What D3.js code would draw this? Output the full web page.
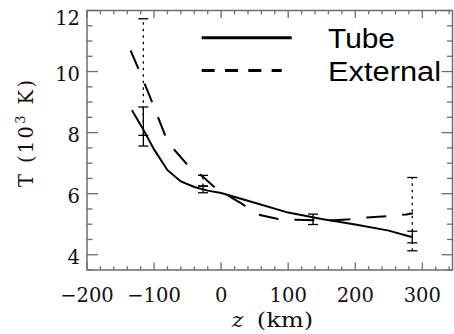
<!DOCTYPE html>
<html>
<head>
<meta charset="utf-8">
<script src="https://cdn.jsdelivr.net/npm/d3@7"></script>
<style>
  html, body { margin: 0; padding: 0; background: #fff; }
  svg { display: block; }
</style>
</head>
<body>
<svg id="chart" width="454" height="334"></svg>
<script>
// ---- data ----
const tubeZ = [-133, -118, -100, -80, -60, -40, -20, 0, 50, 100, 150, 200, 250, 284];
const tubeT = [8.73, 8.18, 7.45, 6.77, 6.40, 6.22, 6.10, 6.02, 5.70, 5.38, 5.17, 4.99, 4.79, 4.58];

const extZ = [-135, -120, -104, -84, -70, -52, -27, -12, 13, 30, 58, 85, 110, 140, 170, 192, 217, 249, 276, 286];
const extT = [10.69, 9.92, 9.06, 7.94, 7.44, 6.99, 6.55, 6.25, 5.90, 5.68, 5.30, 5.17, 5.15, 5.13, 5.13, 5.16, 5.22, 5.26, 5.32, 5.36];

const tubeErrZ = [-116, -27, 137, 285];
const tubeErrLo = [7.56, 6.03, 4.99, 4.39];
const tubeErrHi = [8.84, 6.25, 5.33, 4.77];

const extErrZ = [-116, -27, 285];
const extErrLo = [7.91, 6.25, 4.13];
const extErrHi = [11.73, 6.60, 6.53];

const xTicks = [-200, -100, 0, 100, 200, 300];
const xTickLabels = ["\u2212200", "\u2212100", "0", "100", "200", "300"];
const yTicks = [4, 6, 8, 10, 12];
const yTickLabels = ["4", "6", "8", "10", "12"];
const seriesNames = ["Tube", "External"];

// ---- layout ----
const svg = d3.select("#chart");
const L = 87, R = 452.5, T = 10.5, B = 270;
const x = d3.scaleLinear().domain([-200, 345]).range([L, R]);
const y = d3.scaleLinear().domain([3.5, 12]).range([B, T]);
const axisColor = "#6e6e6e";
const serif = "'DejaVu Serif', serif";

// frame
svg.append("rect").attr("x", L).attr("y", T).attr("width", R - L).attr("height", B - T)
  .attr("fill", "none").attr("stroke", axisColor).attr("stroke-width", 1.5);

// ticks (inward, all four sides)
const xMinor = d3.range(-200, 346, 20);
const yMinor = d3.range(3.5, 12.01, 0.5);
const tickG = svg.append("g").attr("stroke", axisColor).attr("stroke-width", 1.3);
xMinor.forEach(v => {
  const major = v % 100 === 0;
  const len = major ? 7.5 : 3.8;
  tickG.append("line").attr("x1", x(v)).attr("x2", x(v)).attr("y1", B).attr("y2", B - len);
  tickG.append("line").attr("x1", x(v)).attr("x2", x(v)).attr("y1", T).attr("y2", T + len);
});
yMinor.forEach(v => {
  const major = Math.abs(v - Math.round(v)) < 1e-6 && Math.round(v) % 2 === 0;
  const len = major ? 11 : 5.5;
  tickG.append("line").attr("x1", L).attr("x2", L + len).attr("y1", y(v)).attr("y2", y(v));
  tickG.append("line").attr("x1", R).attr("x2", R - len).attr("y1", y(v)).attr("y2", y(v));
});

// tick labels
svg.append("g").selectAll("text").data(xTicks).join("text")
  .attr("x", d => x(d)).attr("y", 301.7)
  .attr("text-anchor", "middle").attr("font-family", serif).attr("font-size", 19.5)
  .attr("fill", "#111")
  .text((d, i) => xTickLabels[i]);

svg.append("g").selectAll("text").data(yTicks).join("text")
  .attr("x", 80).attr("y", d => Math.max(y(d) + 9, 25))
  .attr("text-anchor", "end").attr("font-family", serif).attr("font-size", 19.5)
  .attr("fill", "#111")
  .text((d, i) => yTickLabels[i]);

// axis titles
svg.append("text").attr("x", 231.7).attr("y", 326.5)
  .attr("font-family", serif).attr("font-style", "italic").attr("font-size", 19.5)
  .attr("fill", "#111").attr("textLength", 11.6).attr("lengthAdjust", "spacingAndGlyphs").text("z");
svg.append("text").attr("x", 256.7).attr("y", 326.5)
  .attr("font-family", serif).attr("font-size", 19.5)
  .attr("fill", "#111").attr("textLength", 56.6).attr("lengthAdjust", "spacingAndGlyphs").text("(km)");

const yl = svg.append("text")
  .attr("transform", "translate(33,133.5) rotate(-90)")
  .attr("text-anchor", "middle").attr("font-family", serif).attr("font-size", 19.5)
  .attr("fill", "#111").attr("textLength", 107).attr("lengthAdjust", "spacing");
yl.append("tspan").text("T (10");
yl.append("tspan").attr("font-size", 13).attr("dy", -8).text("3");
yl.append("tspan").attr("dy", 8).text(" K)");

// curves
const line = d3.line().x(d => x(d[0])).y(d => y(d[1]));
svg.append("path").datum(d3.zip(tubeZ, tubeT)).attr("d", line)
  .attr("fill", "none").attr("stroke", "#000").attr("stroke-width", 2);
svg.append("path").datum(d3.zip(extZ, extT)).attr("d", line)
  .attr("fill", "none").attr("stroke", "#000").attr("stroke-width", 2)
  .attr("stroke-dasharray", "20,16");

// error bars
function errBars(zs, lo, hi, dash) {
  const g = svg.append("g").attr("stroke", "#000").attr("stroke-width", 1.3);
  zs.forEach((z, i) => {
    g.append("line").attr("x1", x(z)).attr("x2", x(z)).attr("y1", y(lo[i])).attr("y2", y(hi[i]))
      .attr("stroke-dasharray", dash);
    [lo[i], hi[i]].forEach(v => {
      g.append("line").attr("x1", x(z) - 5).attr("x2", x(z) + 5).attr("y1", y(v)).attr("y2", y(v));
    });
  });
}
errBars(extErrZ, extErrLo, extErrHi, "2.5,4");
errBars(tubeErrZ, tubeErrLo, tubeErrHi, null);

// legend
const lg = svg.append("g");
lg.append("line").attr("x1", 201.7).attr("x2", 291.7).attr("y1", 37.7).attr("y2", 37.7)
  .attr("stroke", "#000").attr("stroke-width", 3);
lg.append("line").attr("x1", 201.7).attr("x2", 281.7).attr("y1", 70.5).attr("y2", 70.5)
  .attr("stroke", "#000").attr("stroke-width", 3).attr("stroke-dasharray", "13,10.3");
lg.append("text").attr("x", 328).attr("y", 47.5).attr("font-family", "'Liberation Sans', Arial, sans-serif")
  .attr("font-size", 27).attr("fill", "#000").attr("textLength", 67).attr("lengthAdjust", "spacingAndGlyphs")
  .text(seriesNames[0]);
lg.append("text").attr("x", 328).attr("y", 81).attr("font-family", "'Liberation Sans', Arial, sans-serif")
  .attr("font-size", 27).attr("fill", "#000").attr("textLength", 113).attr("lengthAdjust", "spacingAndGlyphs")
  .text(seriesNames[1]);
</script>
</body>
</html>
